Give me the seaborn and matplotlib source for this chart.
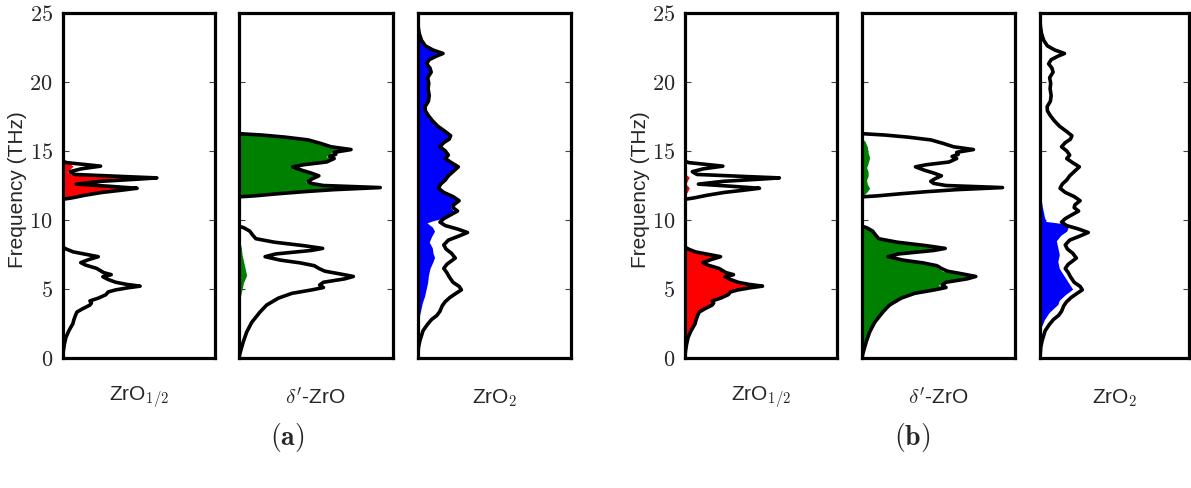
import matplotlib
matplotlib.use("Agg")
import matplotlib.pyplot as plt
import seaborn as sns
from matplotlib.ticker import FixedLocator, FuncFormatter

# ---------------------------------------------------------------------------
# Phonon densities of states (frequency in THz, DOS in arbitrary units).
# Each compound: total DOS plus the projected DOS shown in panels (a) and (b).
# ---------------------------------------------------------------------------

# ZrO_{1/2}
half_total_f = [0.0, 0.5, 1.0, 1.5, 2.0, 2.5, 2.8, 3.1, 3.35, 3.6, 3.85, 4.0, 4.15, 4.35,
                4.6, 4.8, 4.95, 5.1, 5.22, 5.35, 5.5, 5.7, 5.9, 6.05, 6.2, 6.5, 6.75,
                6.92, 7.15, 7.35, 7.55, 7.7, 7.9, 8.05,
                11.5, 11.6, 11.8, 12.0, 12.15, 12.3, 12.45, 12.6, 12.8, 12.95, 13.05,
                13.15, 13.3, 13.5, 13.7, 13.9, 14.05, 14.15, 14.25, 25.0]
half_total_d = [0.0, 0.005, 0.012, 0.022, 0.042, 0.068, 0.075, 0.085, 0.095, 0.135, 0.18,
                0.19, 0.18, 0.235, 0.285, 0.30, 0.35, 0.43, 0.51, 0.42, 0.35, 0.30,
                0.265, 0.32, 0.27, 0.225, 0.15, 0.12, 0.175, 0.235, 0.14, 0.07, 0.025, 0.0,
                0.0, 0.06, 0.15, 0.26, 0.38, 0.49, 0.30, 0.09, 0.25, 0.48, 0.62,
                0.40, 0.08, 0.05, 0.12, 0.25, 0.12, 0.03, 0.0, 0.0]

half_pa_f = [11.5, 11.6, 11.8, 12.0, 12.15, 12.3, 12.45, 12.6, 12.8, 12.95, 13.05, 13.15,
             13.3, 13.5, 13.7, 13.9, 14.05, 14.15, 14.25]
half_pa_d = [0.0, 0.05, 0.14, 0.245, 0.36, 0.47, 0.28, 0.07, 0.23, 0.46, 0.60, 0.38,
             0.06, 0.03, 0.05, 0.07, 0.05, 0.02, 0.0]

half_pb_f = [0.5, 1.0, 1.5, 2.0, 2.5, 2.8, 3.1, 3.35, 3.6, 3.85, 4.0, 4.15, 4.35, 4.6,
             4.8, 4.95, 5.1, 5.22, 5.35, 5.5, 5.7, 5.9, 6.05, 6.2, 6.5, 6.75, 6.92,
             7.15, 7.35, 7.55, 7.7, 7.9, 8.05,
             11.6, 11.9, 12.2, 12.35, 12.6, 12.9, 13.1, 13.3, 13.7, 14.1]
half_pb_d = [0.0, 0.003, 0.01, 0.03, 0.058, 0.065, 0.075, 0.085, 0.125, 0.17, 0.18, 0.17,
             0.225, 0.275, 0.29, 0.34, 0.42, 0.495, 0.41, 0.34, 0.29, 0.255, 0.31,
             0.26, 0.215, 0.14, 0.11, 0.165, 0.225, 0.13, 0.06, 0.015, 0.0,
             0.0, 0.01, 0.025, 0.03, 0.008, 0.02, 0.03, 0.008, 0.003, 0.0]

# delta'-ZrO
delta_total_f = [0.0, 0.3, 0.7, 1.2, 1.9, 2.6, 3.35, 3.85, 4.35, 4.7, 4.95, 5.12, 5.3,
                 5.5, 5.75, 5.92, 6.1, 6.3, 6.5, 6.7, 6.9, 7.1, 7.35, 7.55, 7.8, 7.95,
                 8.15, 8.4, 8.65, 8.9, 9.2, 9.45, 9.55,
                 11.68, 11.75, 11.9, 12.05, 12.2, 12.35, 12.5, 12.65, 12.8, 13.0, 13.2,
                 13.4, 13.6, 13.85, 14.0, 14.2, 14.45, 14.6, 14.75, 14.9, 15.1, 15.3,
                 15.55, 15.8, 16.0, 16.15, 16.25, 25.0]
delta_total_d = [0.0, 0.005, 0.015, 0.028, 0.05, 0.083, 0.137, 0.18, 0.256, 0.345, 0.475,
                 0.55, 0.525, 0.55, 0.69, 0.745, 0.66, 0.56, 0.52, 0.49, 0.40, 0.27,
                 0.17, 0.24, 0.47, 0.545, 0.42, 0.23, 0.11, 0.09, 0.07, 0.03, 0.0,
                 0.0, 0.10, 0.25, 0.42, 0.62, 0.92, 0.55, 0.47, 0.45, 0.48, 0.52,
                 0.47, 0.41, 0.35, 0.42, 0.57, 0.62, 0.59, 0.63, 0.62, 0.73, 0.60,
                 0.53, 0.45, 0.30, 0.15, 0.0, 0.0]

delta_pa_f = [3.5, 4.5, 5.5, 6.0, 6.5, 7.0, 7.5, 8.0, 8.5, 9.0,
              11.68, 11.75, 11.9, 12.05, 12.2, 12.35, 12.5, 12.65, 12.8, 13.0, 13.2,
              13.4, 13.6, 13.85, 14.0, 14.2, 14.45, 14.6, 14.75, 14.9, 15.1, 15.3,
              15.55, 15.8, 16.0, 16.15, 16.25]
delta_pa_d = [0.0, 0.01, 0.03, 0.05, 0.04, 0.03, 0.02, 0.015, 0.005, 0.0,
              0.0, 0.09, 0.24, 0.41, 0.60, 0.88, 0.53, 0.455, 0.43, 0.46, 0.50,
              0.455, 0.40, 0.34, 0.405, 0.55, 0.60, 0.565, 0.60, 0.60, 0.71, 0.59,
              0.52, 0.44, 0.29, 0.14, 0.0]

delta_pb_f = [0.0, 0.3, 0.7, 1.2, 1.9, 2.6, 3.35, 3.85, 4.35, 4.7, 4.95, 5.12, 5.3, 5.5,
              5.75, 5.92, 6.1, 6.3, 6.5, 6.7, 6.9, 7.1, 7.35, 7.55, 7.8, 7.95, 8.15,
              8.4, 8.65, 8.9, 9.2, 9.45, 9.55,
              11.7, 12.0, 12.3, 12.6, 12.9, 13.2, 13.5, 13.8, 14.1, 14.5, 14.9, 15.3,
              15.7, 15.9]
delta_pb_d = [0.0, 0.004, 0.013, 0.025, 0.046, 0.078, 0.13, 0.17, 0.245, 0.33, 0.46,
              0.53, 0.50, 0.53, 0.67, 0.72, 0.63, 0.53, 0.50, 0.475, 0.385, 0.255,
              0.16, 0.23, 0.455, 0.53, 0.405, 0.215, 0.10, 0.08, 0.06, 0.02, 0.0,
              0.0, 0.03, 0.05, 0.035, 0.03, 0.04, 0.04, 0.03, 0.04, 0.05, 0.04, 0.035,
              0.02, 0.0]

# ZrO_2
dioxide_total_f = [0.0, 0.8, 1.3, 2.0, 2.4, 2.8, 3.1, 3.4, 3.8, 4.1, 4.4, 4.7, 4.95, 5.2,
                   5.5, 5.9, 6.2, 6.5, 6.8, 7.25, 7.6, 7.9, 8.2, 8.55, 8.85, 9.1, 9.35,
                   9.6, 9.85, 10.1, 10.35, 10.65, 10.9, 11.1, 11.4, 11.7, 12.0, 12.3,
                   12.6, 12.9, 13.2, 13.5, 13.85, 14.15, 14.45, 14.7, 15.0, 15.3, 15.6,
                   15.85, 16.1, 16.4, 16.8, 17.2, 17.55, 17.9, 18.2, 18.6, 19.0, 19.5,
                   19.9, 20.3, 20.7, 21.0, 21.3, 21.6, 21.85, 22.05, 22.3, 22.6, 23.0,
                   23.5, 24.0, 24.5, 25.0]
dioxide_total_d = [0.0, 0.005, 0.015, 0.035, 0.06, 0.09, 0.125, 0.145, 0.16, 0.18, 0.21,
                   0.25, 0.285, 0.27, 0.23, 0.205, 0.19, 0.17, 0.19, 0.245, 0.22, 0.185,
                   0.17, 0.20, 0.27, 0.325, 0.26, 0.18, 0.145, 0.17, 0.21, 0.26, 0.23,
                   0.235, 0.27, 0.23, 0.17, 0.135, 0.15, 0.18, 0.20, 0.23, 0.265, 0.22,
                   0.18, 0.20, 0.18, 0.145, 0.17, 0.205, 0.215, 0.18, 0.13, 0.095, 0.07,
                   0.05, 0.048, 0.07, 0.075, 0.068, 0.072, 0.065, 0.088, 0.08, 0.058,
                   0.075, 0.12, 0.165, 0.10, 0.05, 0.025, 0.01, 0.003, 0.0, 0.0]

dioxide_pa_f = [2.5, 3.0, 3.5, 4.0, 4.5, 5.0, 5.5, 6.0, 6.5, 7.0, 7.3, 7.6, 8.0, 8.4,
                8.8, 9.2, 9.5, 9.8, 9.95, 10.1, 10.35, 10.65, 10.9, 11.1, 11.4, 11.7,
                12.0, 12.3, 12.6, 12.9, 13.2, 13.5, 13.85, 14.15, 14.45, 14.7, 15.0,
                15.3, 15.6, 15.85, 16.1, 16.4, 16.8, 17.2, 17.55, 17.9, 18.2, 18.6,
                19.0, 19.5, 19.9, 20.3, 20.7, 21.0, 21.3, 21.6, 21.85, 22.05, 22.3,
                22.6, 23.0, 23.5, 24.0]
dioxide_pa_d = [0.0, 0.01, 0.02, 0.03, 0.045, 0.055, 0.065, 0.07, 0.08, 0.10, 0.11, 0.10,
                0.095, 0.075, 0.09, 0.11, 0.095, 0.06, 0.10, 0.155, 0.19, 0.235, 0.215,
                0.22, 0.255, 0.22, 0.165, 0.13, 0.145, 0.175, 0.195, 0.225, 0.26, 0.215,
                0.175, 0.195, 0.175, 0.14, 0.165, 0.20, 0.21, 0.175, 0.125, 0.09, 0.066,
                0.046, 0.044, 0.066, 0.071, 0.064, 0.068, 0.061, 0.084, 0.076, 0.055,
                0.071, 0.115, 0.16, 0.095, 0.046, 0.021, 0.007, 0.0]

dioxide_pb_f = [2.0, 2.3, 2.8, 3.3, 3.7, 3.9, 4.2, 4.6, 5.0, 5.5, 6.0, 6.5, 7.0, 7.5,
                8.0, 8.5, 8.9, 9.2, 9.5, 9.75, 9.9, 10.2, 11.0, 12.1]
dioxide_pb_d = [0.0, 0.01, 0.03, 0.06, 0.10, 0.12, 0.13, 0.17, 0.22, 0.19, 0.16, 0.13,
                0.12, 0.13, 0.12, 0.11, 0.14, 0.18, 0.19, 0.15, 0.04, 0.03, 0.015, 0.0]

compound_labels = [r"ZrO$_{1/2}$", r"$\delta'$-ZrO", r"ZrO$_2$"]
panel_captions = [r"$\mathbf{(a)}$", r"$\mathbf{(b)}$"]
freq_ticks = [0, 5, 10, 15, 20, 25]

totals = [(half_total_f, half_total_d), (delta_total_f, delta_total_d),
          (dioxide_total_f, dioxide_total_d)]
partials = {
    0: [(half_pa_f, half_pa_d), (delta_pa_f, delta_pa_d), (dioxide_pa_f, dioxide_pa_d)],
    1: [(half_pb_f, half_pb_d), (delta_pb_f, delta_pb_d), (dioxide_pb_f, dioxide_pb_d)],
}
fill_colors = ["#ff0000", "#008000", "#0000ff"]

# ---------------------------------------------------------------------------
sns.set_style("white")
plt.rcParams["font.family"] = ["Liberation Sans", "DejaVu Sans"]
plt.rcParams["mathtext.fontset"] = "cm"

W, H = 1191, 488
fig = plt.figure(figsize=(W / 100, H / 100), dpi=100)

# axes boxes in pixels: (left, right)
boxes = [[(62.5, 214.7), (239.0, 392.5), (417.7, 571.0)],
         [(684.7, 837.3), (862.0, 1014.7), (1040.0, 1188.5)]]
top_px, bot_px = 12.7, 358.3

for g in range(2):
    for i in range(3):
        l, r = boxes[g][i]
        ax = fig.add_axes([l / W, 1 - bot_px / H, (r - l) / W, (bot_px - top_px) / H])
        f_tot, d_tot = totals[i]
        f_p, d_p = partials[g][i]
        ax.fill_betweenx(f_p, 0, d_p, color=fill_colors[i], lw=0, zorder=1)
        sns.lineplot(x=d_tot, y=f_tot, orient="y", estimator=None, sort=True,
                     color="black", lw=2.6, ax=ax, zorder=2)
        ax.set_xlim(0, 1)
        ax.set_ylim(0, 25)
        ax.set_xticks([])
        ax.yaxis.set_major_locator(FixedLocator(freq_ticks))
        ax.tick_params(axis="y", direction="in", length=4, width=0.8, color="#444444",
                       left=True, right=True, labelleft=(i == 0), labelsize=16, pad=7)
        ax.yaxis.set_major_formatter(FuncFormatter(lambda v, p: f"${v:g}$"))
        for s in ax.spines.values():
            s.set_linewidth(2.3)
            s.set_color("black")
        ax.set_xlabel("")
        ax.set_ylabel("")
        ax.text(0.5, -(398 - bot_px) / (bot_px - top_px), compound_labels[i],
                transform=ax.transAxes, ha="center", va="center", fontsize=15)
        if i == 0:
            fig.text((l - 44.5) / W, 1 - 190 / H, "Frequency (THz)", rotation=90,
                     ha="center", va="center", fontsize=15)
    cx = [287, 912][g]
    fig.text(cx / W, 1 - 438 / H, panel_captions[g], ha="center", va="center",
             fontsize=20)

fig.savefig("out.png", dpi=100)
